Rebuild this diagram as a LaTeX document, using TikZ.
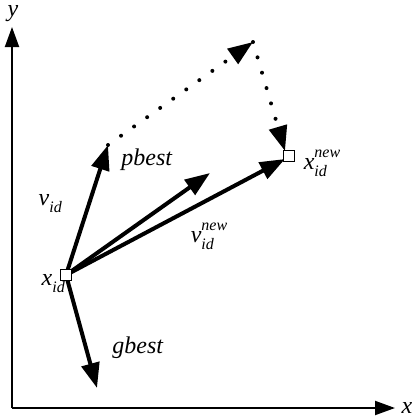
\documentclass[tikz,border=0pt]{standalone}
\usepackage{fontspec}
\setmainfont{Liberation Serif}
\usepackage{xcolor}
\usepackage{tikz}
\usetikzlibrary{arrows.meta,calc}
\newcommand{\VarLab}[3]{\textit{#1}\rlap{\raisebox{-0.6ex}{\footnotesize\textit{#2}}}\raisebox{1.1ex}{\footnotesize\textit{#3}}}
\tikzset{
  every node/.style={font=\fontsize{12}{14}\selectfont, inner sep=1pt},
  axisline/.style={line width=1pt, -{Triangle[length=10pt,width=7pt]}},
  vecline/.style={line width=2pt, -{Triangle[length=12.5pt,width=9pt]}},
  moveline/.style={line width=2pt, line cap=round, dash pattern=on 0pt off 8pt,
    -{Triangle[length=12.5pt,width=9pt]}},
  posbox/.style={draw, line width=0.6pt, fill=white, minimum size=5.5pt,
    inner sep=0pt}
}

\begin{document}
\begin{tikzpicture}[x=0.5pt,y=-0.5pt]
\useasboundingbox (0,0) rectangle (414,419);

% =========================
% AXES
% =========================
\coordinate (origin) at (12,408);
\coordinate (ytip)   at (12,27);
\coordinate (xtip)   at (395,408);
\draw[axisline] (origin) -- (ytip);
\draw[axisline] (origin) -- (xtip);
\node (ylab) at (13,14) {\textit{y}};
\node (xlab) at (407,408) {\textit{x}};

% =========================
% POSITIONS + VECTOR ENDS
% =========================
\coordinate (xid)    at (66,275);
\coordinate (xnew)   at (289,156);
\coordinate (vtip)   at (108,145);
\coordinate (ptip)   at (210,173);
\coordinate (gtip)   at (97,388);
\coordinate (corner) at (253,42);

% vectors
\draw[vecline] (xid) -- (vtip);
\draw[vecline] (xid) -- (ptip);
\draw[vecline] (xid) -- (gtip);
\draw[vecline] (xid) -- ($(xnew)+(-4,3)$);

% dotted move: v_id carried over to x_new
\draw[moveline] (vtip) -- (corner);
\draw[moveline] (corner) -- ($(xnew)+(-4,-5)$);

% position boxes
\node[posbox] (xidbox)  at (xid)  {};
\node[posbox] (xnewbox) at (xnew) {};

% =========================
% LABELS
% =========================
\node (vlab)    at (44,203)  {\VarLab{v}{id}{}};
\node (xlabid)  at (47,283)  {\VarLab{x}{id}{}};
\node (plab)    at (147,160) {\textit{pbest}};
\node (glab)    at (138,348) {\textit{gbest}};
\node (vnewlab) at (209,236) {\VarLab{v}{id}{new}};
\node (xnewlab) at (322,163) {\VarLab{x}{id}{new}};

\end{tikzpicture}
\end{document}
